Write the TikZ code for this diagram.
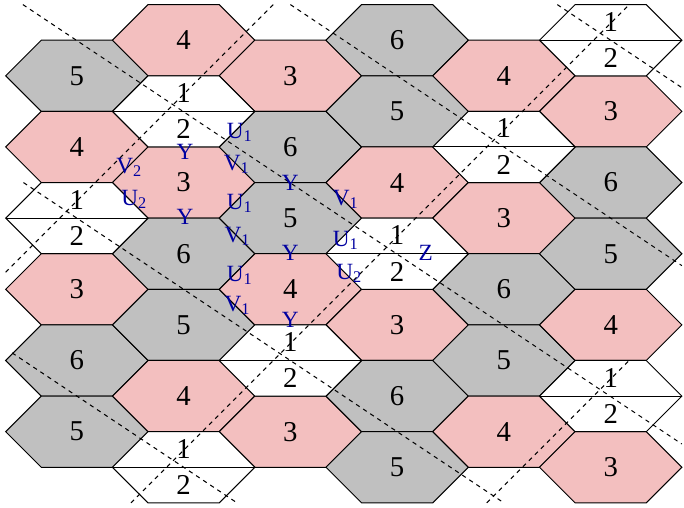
\documentclass[tikz,border=0pt]{standalone}
\usepackage{fontspec}
\setmainfont{Liberation Serif}
\definecolor{hexpink}{RGB}{243,191,191}
\definecolor{hexgray}{RGB}{192,192,192}
\definecolor{edgeblue}{RGB}{0,0,160}
\tikzset{
  hexa/.style={draw=black,line width=0.4pt},
  tile/.style={font=\fontsize{11.5}{13}\selectfont,inner sep=0pt},
  edgelab/.style={font=\fontsize{9.3}{11}\selectfont,text=edgeblue,inner sep=0pt},
  cutline/.style={line width=0.4pt,dash pattern=on 1.7pt off 1.7pt}
}

\begin{document}
\begin{tikzpicture}
\useasboundingbox (-1.08,-0.07) rectangle (8.53,7.065);
% coloured tiles
\foreach \x/\y/\n/\c [count=\i] in {0/6/5/hexgray, 0/5/4/hexpink, 0/3/3/hexpink, 0/2/6/hexgray, 0/1/5/hexgray,
  1.5/6.5/4/hexpink, 1.5/4.5/3/hexpink, 1.5/3.5/6/hexgray, 1.5/2.5/5/hexgray, 1.5/1.5/4/hexpink,
  3/6/3/hexpink, 3/5/6/hexgray, 3/4/5/hexgray, 3/3/4/hexpink, 3/1/3/hexpink,
  4.5/6.5/6/hexgray, 4.5/5.5/5/hexgray, 4.5/4.5/4/hexpink, 4.5/2.5/3/hexpink, 4.5/1.5/6/hexgray, 4.5/0.5/5/hexgray,
  6/6/4/hexpink, 6/4/3/hexpink, 6/3/6/hexgray, 6/2/5/hexgray, 6/1/4/hexpink,
  7.5/5.5/3/hexpink, 7.5/4.5/6/hexgray, 7.5/3.5/5/hexgray, 7.5/2.5/4/hexpink, 7.5/0.5/3/hexpink}
{
  \filldraw[hexa, fill=\c] (\x,\y) ++(-1,0) -- ++(0.5,0.5) -- ++(1,0) -- ++(0.5,-0.5) -- ++(-0.5,-0.5) -- ++(-1,0) -- cycle;
  \node[tile] (t\i) at (\x,\y) {\n};
}
% split tiles
\foreach \x/\y [count=\i] in {0/4, 1.5/5.5, 1.5/0.5, 3/2, 4.5/3.5, 6/5, 7.5/6.5, 7.5/1.5}
{
  \filldraw[hexa, fill=white] (\x,\y) ++(-1,0) -- ++(0.5,0.5) -- ++(1,0) -- ++(0.5,-0.5) -- ++(-0.5,-0.5) -- ++(-1,0) -- cycle;
  \draw[hexa] (\x,\y) ++(-1,0) -- ++(2,0);
  \node[tile] (up\i) at (\x,\y+0.26) {1};
  \node[tile] (lo\i) at (\x,\y-0.25) {2};
}
% fundamental domains
\draw[cutline] (-0.758,7) -- (8.5,0.826);
\draw[cutline] (-0.75,4.5) -- (6,0);
\draw[cutline] (3,7) -- (8.5,3.333);
\draw[cutline] (6.75,7) -- (8.5,5.833);
\draw[cutline] (-0.91,2.107) -- (2.25,0);
\draw[cutline] (-1,3.24) -- (2.76,7);
\draw[cutline] (0.76,0) -- (7.76,7);
\draw[cutline] (5.76,0) -- (7.76,2);
% edge labels
\node[edgelab] (ua) at (2.29,5.21) {U\textsubscript{1}};
\node[edgelab] (ya) at (1.52,4.93) {Y};
\node[edgelab] (va) at (0.74,4.72) {V\textsubscript{2}};
\node[edgelab] (vb) at (2.25,4.76) {V\textsubscript{1}};
\node[edgelab] (ub) at (0.81,4.27) {U\textsubscript{2}};
\node[edgelab] (yb) at (1.52,4.02) {Y};
\node[edgelab] (yc) at (3.0,4.49) {Y};
\node[edgelab] (uc) at (2.29,4.21) {U\textsubscript{1}};
\node[edgelab] (vc) at (3.78,4.26) {V\textsubscript{1}};
\node[edgelab] (vd) at (2.26,3.75) {V\textsubscript{1}};
\node[edgelab] (yd) at (3.0,3.51) {Y};
\node[edgelab] (ud) at (3.78,3.69) {U\textsubscript{1}};
\node[edgelab] (ue) at (2.29,3.20) {U\textsubscript{1}};
\node[edgelab] (uf) at (3.83,3.23) {U\textsubscript{2}};
\node[edgelab] (z) at (4.90,3.51) {Z};
\node[edgelab] (ve) at (2.26,2.77) {V\textsubscript{1}};
\node[edgelab] (ye) at (3.0,2.57) {Y};
\end{tikzpicture}
\end{document}
